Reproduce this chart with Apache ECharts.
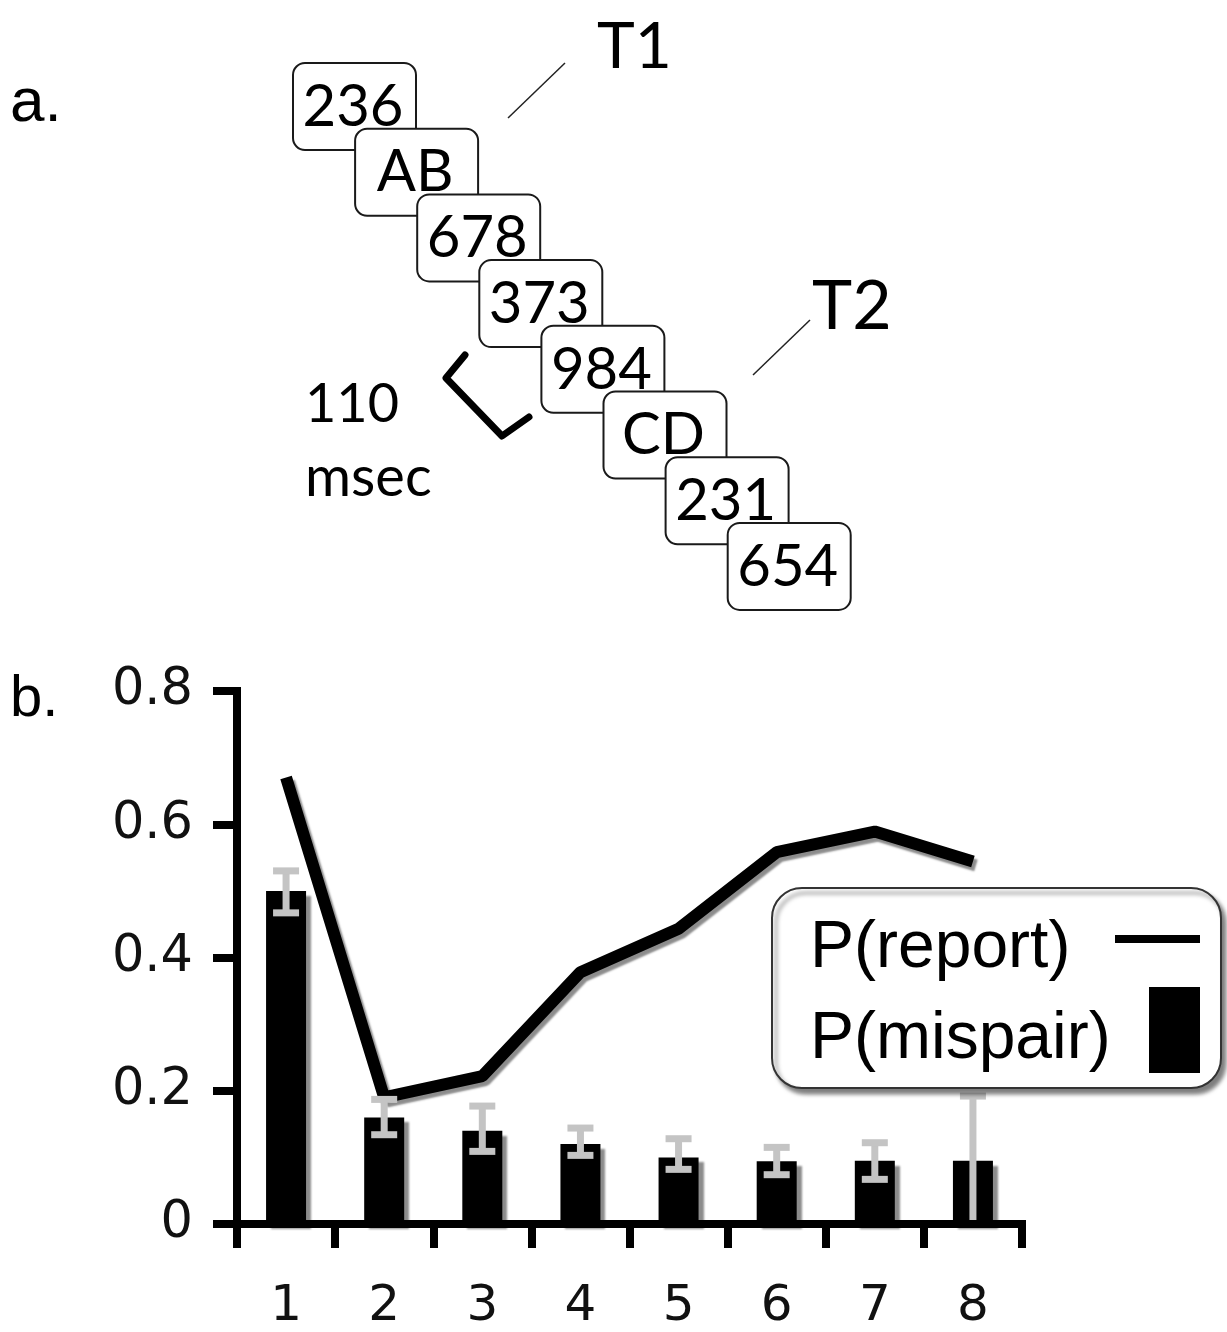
<!DOCTYPE html>
<html>
<head>
<meta charset="utf-8">
<script src="https://cdn.jsdelivr.net/npm/echarts@6/dist/echarts.min.js"></script>
<style>
html, body { margin: 0; padding: 0; background: #fff; }
#chart { width: 1227px; height: 1332px; }
</style>
</head>
<body>
<div id="chart"></div>
<script>
// panel a: the RSVP stream
const streamItems = ['236', 'AB', '678', '373', '984', 'CD', '231', '654']

// panel b
const lags = ['1', '2', '3', '4', '5', '6', '7', '8']
const pReport = [0.67, 0.19, 0.222, 0.378, 0.443, 0.558, 0.589, 0.544]
const pMispair = [0.50, 0.16, 0.14, 0.12, 0.10, 0.094, 0.095, 0.095]
const errLow = [0.467, 0.134, 0.109, 0.103, 0.082, 0.074, 0.067, 0]
const errHigh = [0.53, 0.187, 0.177, 0.144, 0.128, 0.115, 0.122, 0.192]

const chart = echarts.init(document.getElementById('chart'))

const cardFont = 'Lato, "DejaVu Sans", sans-serif'
const plainFont = '"Liberation Sans", Arial, sans-serif'
const tickFont = '"DejaVu Sans", Verdana, sans-serif'

// stacked cards, each one drawn over the previous
const panelA = []
streamItems.forEach((label, i) => {
    const x = 293 + i * 62.1
    const y = 63 + i * 65.7
    panelA.push({
        type: 'rect',
        shape: { x: x, y: y, width: 123, height: 87, r: 12 },
        style: { fill: '#fff', stroke: '#1a1a1a', lineWidth: 2 }
    })
    panelA.push({
        type: 'text',
        x: x + 60,
        y: y + 44,
        style: { text: label, font: '58px ' + cardFont, fill: '#000', align: 'center', verticalAlign: 'middle' }
    })
})
panelA.push(
    { type: 'line', shape: { x1: 508, y1: 118, x2: 565, y2: 63 }, style: { stroke: '#222', lineWidth: 1.5 } },
    { type: 'text', x: 597, y: 47, style: { text: 'T1', font: '64px ' + cardFont, fill: '#000', verticalAlign: 'middle' } },
    { type: 'line', shape: { x1: 753, y1: 375, x2: 810, y2: 320 }, style: { stroke: '#222', lineWidth: 1.5 } },
    { type: 'text', x: 812, y: 307, style: { text: 'T2', font: '68px ' + cardFont, fill: '#000', verticalAlign: 'middle' } },
    {
        type: 'polyline',
        shape: { points: [[465, 355], [446, 378], [502, 436], [529, 417]] },
        style: { stroke: '#000', lineWidth: 7, lineJoin: 'round', lineCap: 'round', fill: null }
    },
    { type: 'text', x: 305, y: 405, style: { text: '110', font: '54px ' + cardFont, fill: '#000', verticalAlign: 'middle' } },
    { type: 'text', x: 305, y: 478, style: { text: 'msec', font: '56px ' + cardFont, fill: '#000', verticalAlign: 'middle' } },
    { type: 'text', x: 10, y: 104, style: { text: 'a.', font: '62px ' + plainFont, fill: '#000', verticalAlign: 'middle' } },
    { type: 'text', x: 10, y: 700, style: { text: 'b.', font: '58px ' + plainFont, fill: '#000', verticalAlign: 'middle' } }
)

const axisStroke = { color: '#000', width: 8, cap: 'square' }
const tickStroke = { color: '#000', width: 8 }

chart.setOption({
    animation: false,
    graphic: panelA,
    grid: { left: 237, right: 205, top: 691, bottom: 104 },
    xAxis: {
        type: 'category',
        data: lags,
        z: 5,
        axisLine: { show: true, lineStyle: axisStroke },
        axisTick: { show: true, length: 24, lineStyle: tickStroke },
        axisLabel: { margin: 58, fontSize: 50, fontFamily: tickFont, color: '#111' }
    },
    yAxis: {
        type: 'value',
        min: 0,
        max: 0.8,
        interval: 0.2,
        z: 5,
        axisLine: { show: true, lineStyle: axisStroke },
        axisTick: { show: true, length: 24, lineStyle: tickStroke },
        axisLabel: { margin: 44, fontSize: 51, fontFamily: tickFont, color: '#111' },
        splitLine: { show: false }
    },
    legend: {
        left: 772,
        top: 888,
        orient: 'vertical',
        align: 'right',
        padding: [28, 21, 15, 38],
        itemWidth: 85,
        itemHeight: 86,
        itemGap: 5,
        backgroundColor: '#fff',
        borderColor: '#333',
        borderWidth: 2,
        borderRadius: 30,
        shadowColor: 'rgba(0,0,0,0.5)',
        shadowBlur: 4,
        shadowOffsetX: 4,
        shadowOffsetY: 5,
        selectedMode: false,
        z: 10,
        itemStyle: { borderWidth: 0 },
        formatter: '{t|{name}}',
        textStyle: {
            rich: {
                t: { width: 300, align: 'left', fontSize: 66, fontFamily: plainFont, color: '#000', padding: [20, 0, 0, 0] }
            }
        },
        data: [
            { name: 'P(report)', icon: 'path://M0,0H85V8H0Z' },
            { name: 'P(mispair)', icon: 'path://M0,0L0,86M34,0H85V86H34Z' }
        ]
    },
    series: [
        {
            name: 'P(mispair)',
            type: 'bar',
            data: pMispair,
            barWidth: 40,
            z: 2,
            itemStyle: {
                color: '#000',
                shadowColor: 'rgba(0,0,0,0.45)',
                shadowBlur: 2,
                shadowOffsetX: 5,
                shadowOffsetY: 5
            }
        },
        {
            name: 'P(report)',
            type: 'line',
            data: pReport,
            symbol: 'none',
            z: 3,
            itemStyle: { color: '#000' },
            lineStyle: {
                color: '#000',
                width: 12,
                shadowColor: 'rgba(0,0,0,0.45)',
                shadowBlur: 2,
                shadowOffsetX: 3,
                shadowOffsetY: 4
            }
        },
        {
            name: 'error',
            type: 'custom',
            z: 4,
            data: errLow.map((lo, i) => [i, lo, errHigh[i]]),
            encode: { x: 0, y: [1, 2] },
            renderItem: function (params, api) {
                const i = api.value(0)
                const lo = api.coord([i, api.value(1)])
                const hi = api.coord([i, api.value(2)])
                const half = 13
                const st = { stroke: '#c4c4c4', lineWidth: 7 }
                return {
                    type: 'group',
                    children: [
                        { type: 'line', shape: { x1: lo[0], y1: lo[1], x2: hi[0], y2: hi[1] }, style: st },
                        { type: 'line', shape: { x1: hi[0] - half, y1: hi[1], x2: hi[0] + half, y2: hi[1] }, style: st },
                        { type: 'line', shape: { x1: lo[0] - half, y1: lo[1], x2: lo[0] + half, y2: lo[1] }, style: st }
                    ]
                }
            }
        }
    ]
})
</script>
</body>
</html>
